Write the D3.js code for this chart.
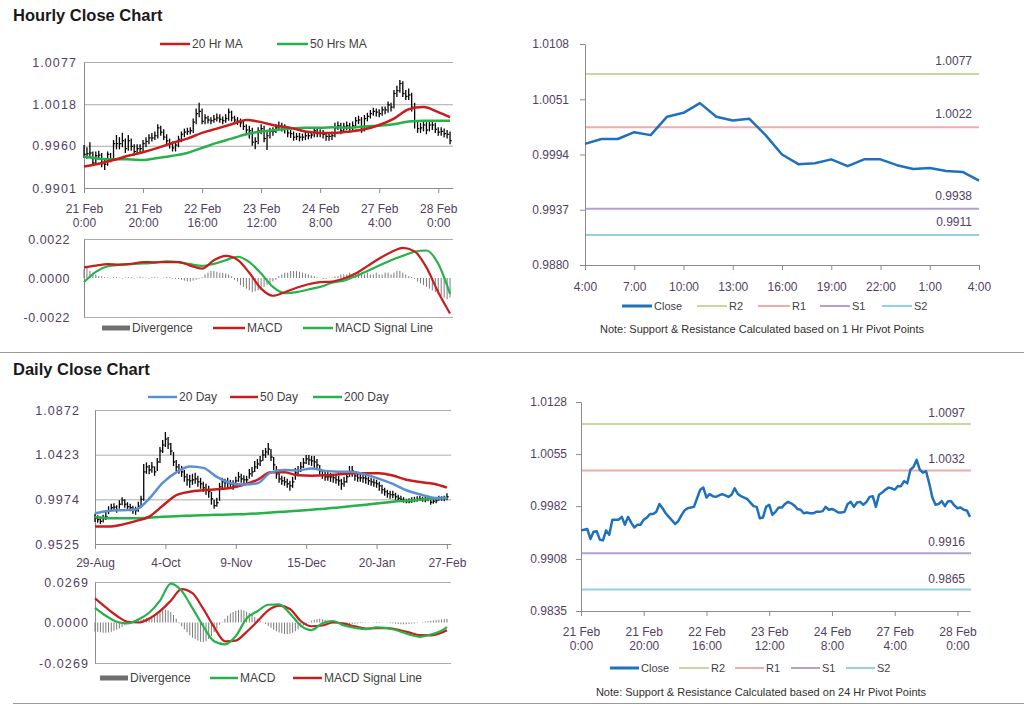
<!DOCTYPE html>
<html><head><meta charset="utf-8">
<script src="https://cdn.jsdelivr.net/npm/d3@7"></script>
<style>
body{margin:0;background:#fff;}
svg{display:block;}
</style></head><body>
<svg id="chart" width="1024" height="706"></svg>
<script>
// ---------------- DATA ----------------
// Hourly (21 Feb 0:00 .. 28 Feb 4:00, trading hours, 125 bars)
const hourlyTickIdx = [0,20,40,60,80,100,120];
const hourlyTickLabels = [["21 Feb","0:00"],["21 Feb","20:00"],["22 Feb","16:00"],["23 Feb","12:00"],["24 Feb","8:00"],["27 Feb","4:00"],["28 Feb","0:00"]];
const hourlyClose = [0.9948,0.9949,0.9950,0.9936,0.9946,0.9947,0.9935,0.9934,0.9948,0.9942,
 0.9963,0.9963,0.9963,0.9967,0.9956,0.9967,0.9959,0.9952,0.9956,0.9956,
 0.9963,0.9966,0.9971,0.9971,0.9974,0.9985,0.9979,0.9972,0.9967,0.9962,
 0.9957,0.9961,0.9969,0.9976,0.9979,0.9980,0.9981,0.9993,1.0005,1.0008,
 0.9994,0.9999,0.9996,0.9995,0.9997,0.9999,0.9997,0.9995,0.9998,1.0007,
 0.9999,0.9996,0.9994,0.9992,0.9987,0.9982,0.9981,0.9965,0.9966,0.9981,
 0.9984,0.9970,0.9974,0.9980,0.9980,0.9985,0.9988,0.9986,0.9983,0.9978,
 0.9977,0.9972,0.9973,0.9972,0.9972,0.9974,0.9974,0.9975,0.9981,0.9977,
 0.9978,0.9976,0.9973,0.9973,0.9974,0.9985,0.9988,0.9981,0.9987,0.9988,
 0.9984,0.9988,0.9995,0.9996,0.9981,0.9998,1.0001,1.0005,1.0008,1.0007,
 1.0005,1.0010,1.0010,1.0017,1.0014,1.0033,1.0037,1.0047,1.0033,1.0029,
 1.0031,1.0014,0.9994,0.9984,0.9985,0.9989,0.9982,0.9989,0.9989,0.9983,
 0.9979,0.9980,0.9977,0.9976,0.9967];
const hourlyHigh = [0.9961,0.9958,0.9965,0.9952,0.9952,0.9953,0.9950,0.9940,0.9952,0.9950,
 0.9968,0.9975,0.9972,0.9978,0.9970,0.9975,0.9970,0.9962,0.9962,0.9962,
 0.9968,0.9972,0.9976,0.9978,0.9980,0.9990,0.9988,0.9983,0.9976,0.9970,
 0.9966,0.9966,0.9974,0.9980,0.9984,0.9985,0.9986,0.9998,1.0012,1.0020,
 1.0012,1.0004,1.0002,1.0000,1.0003,1.0005,1.0004,1.0001,1.0004,1.0012,
 1.0009,1.0002,1.0000,0.9998,0.9995,0.9990,0.9988,0.9985,0.9972,0.9986,
 0.9990,0.9988,0.9980,0.9985,0.9986,0.9990,0.9994,0.9992,0.9990,0.9986,
 0.9982,0.9980,0.9978,0.9978,0.9977,0.9980,0.9979,0.9980,0.9986,0.9984,
 0.9983,0.9982,0.9979,0.9978,0.9980,0.9992,0.9994,0.9992,0.9992,0.9994,
 0.9992,0.9994,1.0000,1.0002,1.0000,1.0003,1.0006,1.0010,1.0013,1.0012,
 1.0011,1.0015,1.0015,1.0022,1.0020,1.0038,1.0044,1.0052,1.0050,1.0038,
 1.0040,1.0034,1.0020,0.9996,0.9992,0.9995,0.9993,0.9994,0.9995,0.9992,
 0.9986,0.9986,0.9984,0.9982,0.9980];
const hourlyLow = [0.9943,0.9942,0.9944,0.9932,0.9934,0.9940,0.9930,0.9926,0.9932,0.9937,
 0.9940,0.9955,0.9955,0.9958,0.9950,0.9953,0.9953,0.9946,0.9948,0.9950,
 0.9952,0.9958,0.9962,0.9966,0.9968,0.9970,0.9974,0.9968,0.9962,0.9956,
 0.9952,0.9952,0.9958,0.9965,0.9972,0.9975,0.9976,0.9978,0.9990,1.0000,
 0.9990,0.9990,0.9991,0.9990,0.9992,0.9994,0.9992,0.9990,0.9992,0.9995,
 0.9994,0.9990,0.9989,0.9986,0.9982,0.9977,0.9970,0.9960,0.9955,0.9962,
 0.9976,0.9965,0.9954,0.9970,0.9974,0.9978,0.9982,0.9980,0.9977,0.9972,
 0.9971,0.9967,0.9968,0.9966,0.9967,0.9968,0.9969,0.9970,0.9972,0.9972,
 0.9972,0.9970,0.9967,0.9967,0.9968,0.9972,0.9982,0.9976,0.9978,0.9982,
 0.9979,0.9980,0.9985,0.9990,0.9978,0.9980,0.9994,0.9998,1.0002,1.0001,
 1.0000,1.0002,1.0004,1.0006,1.0008,1.0012,1.0028,1.0034,1.0028,1.0024,
 1.0024,1.0008,0.9984,0.9978,0.9978,0.9980,0.9976,0.9980,0.9982,0.9978,
 0.9974,0.9974,0.9972,0.9970,0.9962];
const hourlyMaIdx = [0,5,10,15,20,25,30,35,40,45,50,55,60,65,70,75,80,85,90,95,100,105,110,115,120,124];
const ma20Hr = [0.9931,0.9935,0.9940,0.9946,0.9951,0.9957,0.9964,0.9970,0.9978,0.9984,0.9990,0.9996,0.9993,0.9988,0.9985,0.9980,0.9978,0.9978,0.9980,0.9983,0.9989,0.9998,1.0011,1.0014,1.0007,1.0000];
const ma50Hr = [0.9945,0.9942,0.9941,0.9941,0.9940,0.9943,0.9946,0.9950,0.9957,0.9964,0.9970,0.9976,0.9980,0.9982,0.9984,0.9985,0.9985,0.9986,0.9985,0.9987,0.9988,0.9990,0.9994,0.9995,0.9995,0.9995];
const hourlyMacdIdx = [0,4,8,12,16,20,24,28,32,36,40,44,48,52,56,60,64,68,72,76,80,84,88,92,96,100,104,108,112,116,120,124];
const hourlyMacd = [0.0006,0.0007,0.00078,0.00076,0.0008,0.0009,0.00088,0.0009,0.0009,0.0007,0.00053,0.0010,0.00125,0.00103,0.0003,-0.0006,-0.0010,-0.0008,-0.00055,-0.00035,-0.00023,-0.0002,-0.00003,0.00025,0.00067,0.0011,0.00145,0.0017,0.0015,0.0006,-0.0008,-0.0020];
const hourlySignal = [-0.00023,0.00035,0.00066,0.00074,0.00078,0.00082,0.00087,0.00094,0.0009,0.00078,0.00068,0.0008,0.0010,0.0012,0.0009,0.00025,-0.0005,-0.00085,-0.0008,-0.00065,-0.0005,-0.00027,-0.00015,0.0001,0.0004,0.0007,0.0010,0.00125,0.00148,0.00155,0.0008,-0.0009];
const hourlyDivergence = [0.0005,0.0006,0.0004,0.0003,0.0002,0.0001,0.0001,
 0.00005,0.00003,-0.00002,0.00004,0.00006,0.00002,-0.00003,0.00003,0.00005,0.00004,-0.00002,0.00003,0.00006,0.00004,0.00002,-0.00003,0.00004,0.00005,0.00003,-0.00002,0.00002,0.00004,0.00003,-0.00003,-0.00005,-0.00006,
 -0.0001,-0.00015,-0.0002,-0.0002,-0.00015,-0.0001,-0.00005,0.00005,
 0.0002,0.0003,0.0004,0.0004,0.00035,0.0003,0.0003,0.00025,0.0002,0.0001,
 -0.0001,-0.0002,-0.0004,-0.0005,-0.0006,-0.0007,-0.0008,-0.00075,-0.0007,-0.0006,-0.0005,-0.0004,-0.0003,-0.0002,-0.0001,
 0.0001,0.0002,0.0003,0.0003,0.0004,0.0004,0.0004,0.00035,0.0003,0.00025,0.0002,0.00015,0.0001,0.00005,
 0.00002,-0.00005,-0.00005,0.00002,0.00003,0.00008,0.0001,
 0.0002,0.0002,0.0002,0.0003,0.0002,0.0002,0.0003,0.0003,0.0002,0.0003,0.0002,0.0002,0.0003,0.0002,0.0002,0.0003,0.0003,0.0002,0.0003,0.0004,0.0004,0.0003,0.0002,0.0001,0.00005,-0.00005,
 -0.0002,-0.0003,-0.0004,-0.0005,-0.0006,-0.0007,-0.0008,-0.0009,-0.0010,-0.0011,-0.0012,-0.0011];
const hourlyYTicks = [0.9901,0.9960,1.0018,1.0077];
const hourlyMacdYTicks = [-0.0022,0.0000,0.0022];

// 1 Hr pivot chart (27 Feb 4:00 .. 28 Feb 4:00)
const pivot1Close = [1.0005,1.0010,1.0010,1.0017,1.0014,1.0033,1.0037,1.0047,1.0033,1.0029,1.0031,1.0014,0.9994,0.9984,0.9985,0.9989,0.9982,0.9989,0.9989,0.9983,0.9979,0.9980,0.9977,0.9976,0.9967];
const pivot1TickIdx = [0,3,6,9,12,15,18,21,24];
const pivot1TickLabels = ["4:00","7:00","10:00","13:00","16:00","19:00","22:00","1:00","4:00"];
const pivot1Levels = [1.0077,1.0022,0.9938,0.9911]; // R2,R1,S1,S2
const pivot1YTicks = [0.9880,0.9937,0.9994,1.0051,1.0108];

// 24 Hr pivot chart (hourly closes 21 Feb 0:00 .. 28 Feb 4:00)
const pivot24Close = hourlyClose;
const pivot24Levels = [1.0097,1.0032,0.9916,0.9865];
const pivot24YTicks = [0.9835,0.9908,0.9982,1.0055,1.0128];

// Daily (29 Aug .. 27 Feb, 131 bars)
const dailyTickIdx = [0,26,52,78,104,130];
const dailyTickLabels = ["29-Aug","4-Oct","9-Nov","15-Dec","20-Jan","27-Feb"];
const dailyClose = [0.9783,0.9770,0.9753,0.9780,0.9800,0.9860,0.9890,0.9895,0.9870,0.9925,
 0.9965,0.9925,0.9900,0.9890,0.9870,0.9860,0.9905,0.9975,1.0250,1.0300,
 1.0270,1.0300,1.0250,1.0350,1.0460,1.0520,1.0580,1.0530,1.0460,1.0350,
 1.0300,1.0270,1.0250,1.0200,1.0170,1.0160,1.0170,1.0180,1.0150,1.0130,
 1.0090,1.0070,1.0050,0.9980,0.9910,0.9940,1.0100,1.0150,1.0140,1.0140,
 1.0130,1.0120,1.0160,1.0200,1.0180,1.0170,1.0170,1.0230,1.0250,1.0300,
 1.0330,1.0360,1.0420,1.0450,1.0480,1.0400,1.0320,1.0230,1.0180,1.0160,
 1.0150,1.0130,1.0110,1.0150,1.0240,1.0260,1.0300,1.0340,1.0380,1.0370,
 1.0360,1.0350,1.0320,1.0260,1.0220,1.0200,1.0200,1.0200,1.0190,1.0170,
 1.0160,1.0130,1.0150,1.0200,1.0250,1.0260,1.0210,1.0190,1.0190,1.0190,
 1.0180,1.0160,1.0150,1.0140,1.0130,1.0110,1.0070,1.0050,1.0030,1.0020,
 1.0020,1.0000,0.9985,0.9975,0.9960,0.9950,0.9950,0.9965,0.9970,0.9975,
 0.9980,0.9970,0.9970,0.9980,0.9945,0.9955,0.9960,0.9980,0.9980,0.9980,
 1.0000];
const dailyHigh = [0.9830,0.9815,0.9800,0.9820,0.9850,0.9905,0.9930,0.9935,0.9915,0.9965,
 0.9995,0.9975,0.9945,0.9930,0.9910,0.9900,0.9950,1.0010,1.0330,1.0345,
 1.0320,1.0350,1.0305,1.0390,1.0500,1.0570,1.0650,1.0600,1.0540,1.0450,
 1.0370,1.0330,1.0310,1.0270,1.0230,1.0220,1.0230,1.0240,1.0210,1.0190,
 1.0150,1.0130,1.0110,1.0050,0.9970,0.9990,1.0140,1.0190,1.0180,1.0190,
 1.0170,1.0165,1.0200,1.0250,1.0230,1.0215,1.0210,1.0280,1.0300,1.0360,
 1.0380,1.0410,1.0470,1.0490,1.0540,1.0480,1.0400,1.0310,1.0240,1.0210,
 1.0200,1.0180,1.0160,1.0200,1.0290,1.0310,1.0350,1.0390,1.0420,1.0420,
 1.0410,1.0410,1.0380,1.0320,1.0270,1.0250,1.0250,1.0240,1.0230,1.0220,
 1.0210,1.0180,1.0200,1.0250,1.0310,1.0310,1.0260,1.0240,1.0240,1.0240,
 1.0220,1.0200,1.0190,1.0180,1.0170,1.0150,1.0120,1.0090,1.0070,1.0060,
 1.0060,1.0040,1.0020,1.0010,0.9995,0.9980,0.9985,0.9995,1.0000,1.0005,
 1.0010,1.0000,1.0000,1.0010,0.9985,0.9990,0.9995,1.0010,1.0005,1.0010,
 1.0035];
const dailyLow = [0.9745,0.9738,0.9725,0.9740,0.9765,0.9825,0.9855,0.9860,0.9840,0.9880,
 0.9915,0.9890,0.9865,0.9855,0.9830,0.9820,0.9850,0.9890,0.9960,1.0230,
 1.0225,1.0240,1.0210,1.0260,1.0340,1.0440,1.0500,1.0480,1.0420,1.0310,
 1.0260,1.0230,1.0200,1.0150,1.0110,1.0090,1.0120,1.0130,1.0100,1.0080,
 1.0050,1.0020,0.9990,0.9920,0.9880,0.9900,0.9960,1.0080,1.0090,1.0090,
 1.0080,1.0070,1.0110,1.0150,1.0140,1.0130,1.0130,1.0180,1.0200,1.0250,
 1.0280,1.0310,1.0360,1.0390,1.0420,1.0360,1.0270,1.0180,1.0140,1.0120,
 1.0110,1.0090,1.0060,1.0090,1.0170,1.0210,1.0250,1.0290,1.0330,1.0320,
 1.0310,1.0290,1.0270,1.0220,1.0180,1.0160,1.0160,1.0150,1.0140,1.0130,
 1.0110,1.0070,1.0100,1.0140,1.0200,1.0200,1.0160,1.0150,1.0150,1.0140,
 1.0130,1.0120,1.0110,1.0100,1.0090,1.0060,1.0030,1.0010,0.9990,0.9980,
 0.9985,0.9970,0.9950,0.9950,0.9940,0.9935,0.9935,0.9940,0.9945,0.9950,
 0.9960,0.9950,0.9945,0.9955,0.9920,0.9930,0.9935,0.9960,0.9960,0.9955,
 0.9965];
const dailyMaIdx = [0,5,10,15,20,25,30,35,40,45,50,55,60,65,70,75,80,85,90,95,100,105,110,115,120,125,130];
const ma20Day = [0.9834,0.9856,0.9865,0.9872,0.9980,1.0140,1.0245,1.0305,1.0290,1.0200,1.0138,1.0122,1.0135,1.0245,1.0268,1.0265,1.0285,1.0260,1.0252,1.0252,1.0222,1.0180,1.0130,1.0065,1.0025,0.9991,0.9985];
const ma50Day = [0.9700,0.9700,0.9720,0.9755,0.9800,0.9910,1.0015,1.0050,1.0065,1.0075,1.0088,1.0120,1.0170,1.0245,1.0245,1.0215,1.0212,1.0215,1.0225,1.0236,1.0236,1.0236,1.0213,1.0170,1.0148,1.0130,1.0093];
const ma200Day = [0.9793,0.9785,0.9783,0.9783,0.9790,0.9798,0.9805,0.9810,0.9815,0.9818,0.9822,0.9825,0.9832,0.9842,0.9850,0.9860,0.9870,0.9880,0.9893,0.9906,0.9920,0.9935,0.9950,0.9960,0.9970,0.9982,0.9990];
const dailyMacdIdx = [0,4,8,12,16,20,24,28,32,36,40,44,48,52,56,60,64,68,72,76,80,84,88,92,96,100,104,108,112,116,120,124,128,130];
const dailyMacd = [0.0098,0.0045,0.0005,-0.0006,0.0020,0.0065,0.0145,0.0258,0.0210,0.0095,-0.0025,-0.0125,-0.0145,-0.0090,0.0027,0.0075,0.0118,0.0120,0.0060,-0.0020,-0.0050,-0.0005,0.0010,-0.0020,-0.0035,-0.0044,-0.0033,-0.0037,-0.0055,-0.0080,-0.0095,-0.0080,-0.0055,-0.0030];
const dailySignal = [0.0160,0.0100,0.0045,0.0005,0.0000,0.0025,0.0075,0.0145,0.0222,0.0195,0.0090,-0.0030,-0.0125,-0.0120,-0.0062,0.0008,0.0080,0.0112,0.0090,0.0010,-0.0025,-0.0020,0.0000,-0.0008,-0.0026,-0.0040,-0.0037,-0.0038,-0.0048,-0.0066,-0.0084,-0.0085,-0.0068,-0.0052];
const dailyDivergence = [-0.0060,-0.0062,-0.0065,-0.0068,-0.0068,-0.0066,-0.0062,-0.0055,-0.0048,-0.0040,-0.0030,-0.0020,-0.0010,
 0.0005,0.0010,0.0015,0.0018,0.0020,0.0025,0.0030,0.0035,0.0045,0.0055,0.0065,0.0075,0.0080,0.0085,0.0080,0.0070,0.0050,
 0.0025,-0.0005,-0.0025,-0.0045,-0.0065,-0.0085,-0.0100,-0.0110,-0.0120,-0.0128,-0.0130,-0.0125,-0.0110,-0.0090,-0.0065,-0.0040,-0.0015,0.0005,
 0.0025,0.0045,0.0060,0.0070,0.0078,0.0082,0.0085,0.0080,0.0072,0.0062,0.0050,0.0038,0.0025,0.0012,0.0002,-0.0010,
 -0.0022,-0.0035,-0.0048,-0.0058,-0.0066,-0.0072,-0.0076,-0.0078,-0.0075,-0.0068,-0.0058,-0.0045,-0.0032,-0.0020,-0.0008,0.0004,
 0.0012,0.0018,0.0022,0.0024,0.0022,0.0018,0.0012,0.0008,0.0004,0.0002,-0.0002,-0.0004,-0.0006,
 -0.0008,-0.0010,-0.0010,-0.0008,-0.0006,-0.0004,-0.0003,-0.0002,-0.0002,0.0000,0.0002,0.0003,0.0003,0.0002,0.0000,-0.0002,-0.0004,-0.0006,-0.0008,-0.0010,-0.0012,-0.0012,-0.0011,-0.0010,-0.0008,-0.0006,-0.0003,0.0000,0.0003,0.0006,0.0009,0.0012,0.0014,0.0016,0.0018,0.0020,0.0022,0.0024];
const dailyYTicks = [0.9525,0.9974,1.0423,1.0872];
const dailyMacdYTicks = [-0.0269,0.0000,0.0269];

// ---------------- DRAWING ----------------
const F = '"Liberation Sans", Arial, Helvetica, sans-serif';
const COL = {axis:'#8c8c8c', grid:'#ababab', tick:'#533f62', leg:'#3f3f3f', red:'#c81d1d', green:'#25b24a',
  blue:'#1f70bd', blue20:'#5b8ed3', gray:'#7b7b7b', r2:'#c5d89d', r1:'#f2abab', s1:'#b3a2d0', s2:'#95d0e2'};
const svg = d3.select('#chart').attr('font-family', F);

function gridLines(y, x0, x1, vals){
  const a = svg.append('g').attr('transform',`translate(${x0},0)`)
    .call(d3.axisLeft(y).tickValues(vals).tickSize(-(x1-x0)).tickSizeOuter(0).tickFormat(''));
  a.select('.domain').remove();
  a.selectAll('.tick line').attr('stroke', COL.grid).attr('stroke-width',1);
}
function yAxis(y, x0, vals, o){
  const a = svg.append('g').attr('transform',`translate(${x0},0)`)
    .call(d3.axisLeft(y).tickValues(vals).tickSize(o.tick||0).tickSizeOuter(0).tickPadding(o.pad)
      .tickFormat(d => d.toFixed(4)));
  a.select('.domain').attr('stroke', COL.axis);
  a.selectAll('.tick line').attr('stroke', COL.axis);
  a.selectAll('.tick text').attr('fill', COL.tick).attr('font-family', F)
    .attr('font-size', o.fs||12).attr('letter-spacing', o.ls||0);
}
function xAxis(x, yPos, vals, labels, o){
  const a = svg.append('g').attr('transform',`translate(0,${yPos})`)
    .call(d3.axisBottom(x).tickValues(vals).tickSize(o.tick).tickSizeOuter(0).tickFormat(''));
  a.select('.domain').attr('stroke', COL.axis);
  a.selectAll('.tick line').attr('stroke', COL.axis);
  a.selectAll('.tick text').remove();
  a.selectAll('.tick').each(function(d,i){
    const t = d3.select(this).append('text').attr('fill', COL.tick).attr('font-family', F)
      .attr('font-size', o.fs||12).attr('text-anchor','middle').attr('y', o.ty);
    [].concat(labels[i]).forEach((s,k) => t.append('tspan').attr('x',0).attr('dy', k ? 14 : 0).text(s));
  });
}
function hline(x0, x1, yy, color, w){
  svg.append('line').attr('x1',x0).attr('x2',x1).attr('y1',yy).attr('y2',yy).attr('stroke',color).attr('stroke-width',w||1);
}
function legend(items, yy, fs){
  items.forEach(it => {
    if (it.bar) svg.append('rect').attr('x',it.x1).attr('y',yy-2.5).attr('width',it.x2-it.x1).attr('height',5).attr('fill',it.color);
    else svg.append('line').attr('x1',it.x1).attr('x2',it.x2).attr('y1',yy).attr('y2',yy).attr('stroke',it.color).attr('stroke-width',it.w||2.5);
    svg.append('text').attr('x',it.x2+2).attr('y',yy+4).attr('font-size',fs||12).attr('fill',COL.leg).text(it.label);
  });
}
function seriesLine(x, y, idx, vals, color, w){
  svg.append('path').datum(idx.map((d,i)=>[d,vals[i]])).attr('fill','none').attr('stroke',color)
    .attr('stroke-width',w).attr('stroke-linejoin','round')
    .attr('d', d3.line().x(d=>x(d[0])).y(d=>y(d[1])).curve(d3.curveMonotoneX));
}
function candles(x, y, hi, lo, cl){
  const g = svg.append('g');
  g.selectAll('line.hl').data(d3.range(cl.length)).join('line').attr('class','hl')
    .attr('x1',i=>x(i)).attr('x2',i=>x(i)).attr('y1',i=>y(hi[i])).attr('y2',i=>y(lo[i]))
    .attr('stroke','#000').attr('stroke-width',1.3);
  g.selectAll('line.cl').data(d3.range(cl.length)).join('line').attr('class','cl')
    .attr('x1',i=>x(i)).attr('x2',i=>x(i)+1.8).attr('y1',i=>y(cl[i])).attr('y2',i=>y(cl[i]))
    .attr('stroke','#000').attr('stroke-width',1.2);
}
function bars(x, y, vals){
  svg.append('g').selectAll('rect').data(vals).join('rect')
    .attr('x',(d,i)=>x(i)-0.5).attr('width',1)
    .attr('y',d=>Math.min(y(0),y(d))).attr('height',d=>Math.abs(y(d)-y(0)))
    .attr('fill',COL.gray);
}
function title(txt, yy){
  svg.append('text').attr('x',13).attr('y',yy).attr('font-size',16.5).attr('font-weight','bold').attr('fill','#1a1a1a').text(txt);
}

// ---- Titles and separators ----
title('Hourly Close Chart', 21);
title('Daily Close Chart', 375);
hline(0, 1024, 352.5, '#9a9a9a', 1.2);
hline(13, 1024, 703.5, '#9a9a9a', 1.2);

// ---- Hourly candle chart ----
{
  const x = d3.scaleLinear().domain([0,125]).range([84,453]);
  const y = d3.scaleLinear().domain([0.9901,1.0077]).range([188,62]);
  gridLines(y, 84, 453, [0.9960,1.0018,1.0077]);
  yAxis(y, 84, hourlyYTicks, {pad:7, fs:12.5, ls:1.1});
  xAxis(x, 188, hourlyTickIdx, hourlyTickLabels, {tick:5, ty:25});
  candles(x, y, hourlyHigh, hourlyLow, hourlyClose);
  seriesLine(x, y, hourlyMaIdx, ma50Hr, COL.green, 2.5);
  seriesLine(x, y, hourlyMaIdx, ma20Hr, COL.red, 2.5);
  legend([{x1:160,x2:190,color:COL.red,label:'20 Hr MA'},{x1:277,x2:308,color:COL.green,label:'50 Hrs MA'}], 44);
}
// ---- Hourly MACD ----
{
  const x = d3.scaleLinear().domain([0,125]).range([84,453]);
  const y = d3.scaleLinear().domain([-0.0022,0.0022]).range([317,239]);
  gridLines(y, 84, 453, [-0.0022,0.0022]);
  yAxis(y, 84, hourlyMacdYTicks, {pad:14, fs:12.5, ls:0.6});
  bars(x, y, hourlyDivergence);
  seriesLine(x, y, hourlyMacdIdx, hourlySignal, COL.green, 2.2);
  seriesLine(x, y, hourlyMacdIdx, hourlyMacd, COL.red, 2.2);
  legend([{x1:102,x2:130,color:'#6f6f6f',bar:true,label:'Divergence'},
          {x1:213,x2:245,color:COL.red,label:'MACD'},
          {x1:303,x2:333,color:COL.green,label:'MACD Signal Line'}], 328);
}
// ---- 1 Hr pivot chart ----
{
  const x = d3.scaleLinear().domain([0,24]).range([585,979]);
  const y = d3.scaleLinear().domain([0.9880,1.0108]).range([265,44]);
  const cols = [COL.r2, COL.r1, COL.s1, COL.s2];
  pivot1Levels.forEach((v,i) => {
    hline(585, 979, y(v), cols[i], 2);
    svg.append('text').attr('x',972).attr('y',y(v)-9).attr('text-anchor','end').attr('font-size',12).attr('fill',COL.tick).text(v.toFixed(4));
  });
  yAxis(y, 585, pivot1YTicks, {tick:5, pad:11});
  xAxis(x, 265, pivot1TickIdx, pivot1TickLabels, {tick:5, ty:26});
  svg.append('path').datum(pivot1Close).attr('fill','none').attr('stroke',COL.blue).attr('stroke-width',2.5)
    .attr('stroke-linejoin','round').attr('d', d3.line().x((d,i)=>x(i)).y(d=>y(d)));
  legend([{x1:622,x2:652,color:COL.blue,label:'Close',w:3},{x1:697,x2:727,color:COL.r2,label:'R2',w:2},
          {x1:758,x2:790,color:COL.r1,label:'R1',w:2},{x1:820,x2:850,color:COL.s1,label:'S1',w:2},
          {x1:882,x2:912,color:COL.s2,label:'S2',w:2}], 306, 11);
  svg.append('text').attr('x',762).attr('y',333).attr('text-anchor','middle').attr('font-size',11).attr('fill','#303030')
    .text('Note: Support & Resistance Calculated based on 1 Hr Pivot Points');
}
// ---- Daily candle chart ----
{
  const x = d3.scaleLinear().domain([0,131.5]).range([95,451]);
  const y = d3.scaleLinear().domain([0.9525,1.0872]).range([544,410]);
  gridLines(y, 95, 451, [0.9974,1.0423,1.0872]);
  yAxis(y, 95, dailyYTicks, {pad:15, fs:12.5, ls:1.1});
  xAxis(x, 544, dailyTickIdx, dailyTickLabels, {tick:5, ty:23});
  candles(x, y, dailyHigh, dailyLow, dailyClose);
  seriesLine(x, y, dailyMaIdx, ma200Day, COL.green, 2.5);
  seriesLine(x, y, dailyMaIdx, ma50Day, COL.red, 2.5);
  seriesLine(x, y, dailyMaIdx, ma20Day, COL.blue20, 2.5);
  legend([{x1:148,x2:177,color:COL.blue20,label:'20 Day'},{x1:230,x2:258,color:COL.red,label:'50 Day'},
          {x1:313,x2:342,color:COL.green,label:'200 Day'}], 397);
}
// ---- Daily MACD ----
{
  const x = d3.scaleLinear().domain([0,131.5]).range([95,451]);
  const y = d3.scaleLinear().domain([-0.0269,0.0269]).range([663,582]);
  gridLines(y, 95, 451, [-0.0269,0.0269]);
  yAxis(y, 95, dailyMacdYTicks, {pad:6, fs:12.5, ls:1.1});
  bars(x, y, dailyDivergence);
  seriesLine(x, y, dailyMacdIdx, dailySignal, COL.red, 2.2);
  seriesLine(x, y, dailyMacdIdx, dailyMacd, COL.green, 2.2);
  legend([{x1:100,x2:128,color:'#6f6f6f',bar:true,label:'Divergence'},
          {x1:210,x2:238,color:COL.green,label:'MACD'},
          {x1:293,x2:322,color:COL.red,label:'MACD Signal Line'}], 678);
}
// ---- 24 Hr pivot chart ----
{
  const x = d3.scaleLinear().domain([0,124]).range([581,970]);
  const y = d3.scaleLinear().domain([0.9835,1.0128]).range([611,402]);
  const cols = [COL.r2, COL.r1, COL.s1, COL.s2];
  pivot24Levels.forEach((v,i) => {
    hline(581, 971, y(v), cols[i], 2);
    svg.append('text').attr('x',965).attr('y',y(v)-7).attr('text-anchor','end').attr('font-size',12).attr('fill',COL.tick).text(v.toFixed(4));
  });
  yAxis(y, 581, pivot24YTicks, {tick:5, pad:9});
  xAxis(x, 611, hourlyTickIdx, hourlyTickLabels, {tick:5, ty:25});
  svg.append('path').datum(pivot24Close).attr('fill','none').attr('stroke',COL.blue).attr('stroke-width',2.5)
    .attr('stroke-linejoin','round').attr('d', d3.line().x((d,i)=>x(i)).y(d=>y(d)));
  legend([{x1:610,x2:639,color:COL.blue,label:'Close',w:3},{x1:679,x2:709,color:COL.r2,label:'R2',w:2},
          {x1:735,x2:764,color:COL.r1,label:'R1',w:2},{x1:791,x2:820,color:COL.s1,label:'S1',w:2},
          {x1:846,x2:875,color:COL.s2,label:'S2',w:2}], 668, 11);
  svg.append('text').attr('x',761).attr('y',696).attr('text-anchor','middle').attr('font-size',11).attr('fill','#303030')
    .text('Note: Support & Resistance Calculated based on 24 Hr Pivot Points');
}
</script>
</body></html>
